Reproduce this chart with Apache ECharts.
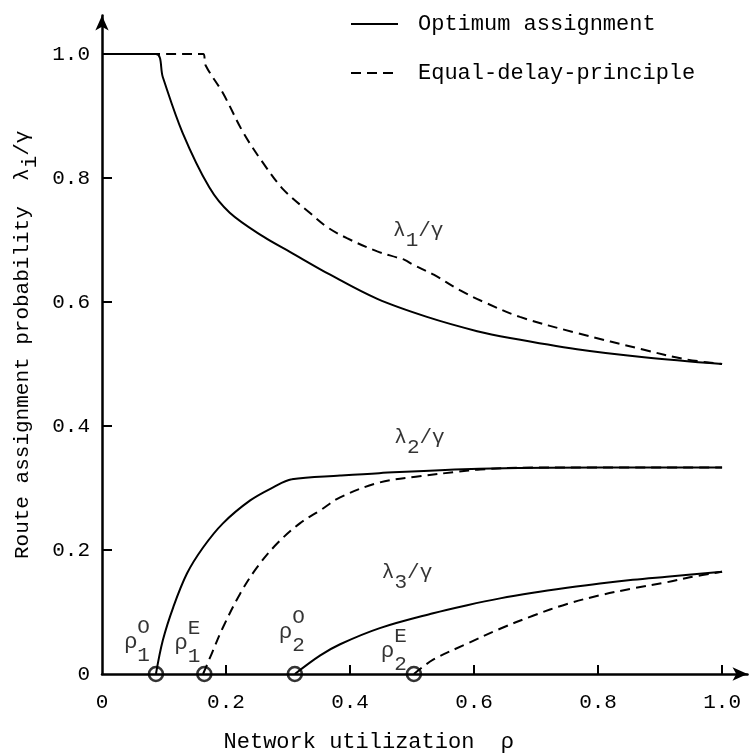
<!DOCTYPE html>
<html><head><meta charset="utf-8">
<script src="https://cdn.jsdelivr.net/npm/echarts@6/dist/echarts.min.js"></script>
<style>html,body{margin:0;padding:0;background:#fff}#c{width:756px;height:755px}</style>
</head><body><div id="c"></div>
<script>
// ---- data ----
const xTickLabels = [0, 0.2, 0.4, 0.6, 0.8, 1.0];
const yTickLabels = [0, 0.2, 0.4, 0.6, 0.8, 1.0];

// Optimum assignment (solid)
const optLambda1 = [[0,1.0],[0.087,1.0],[0.098,0.963],[0.130,0.873],[0.173,0.785],[0.206,0.744],[0.261,0.705],[0.303,0.681],[0.368,0.644],[0.444,0.605],[0.524,0.576],[0.605,0.553],[0.658,0.542],[0.766,0.524],[0.874,0.511],[1.0,0.5]];
const optLambda2 = [[0.087,0],[0.098,0.054],[0.115,0.108],[0.137,0.162],[0.163,0.204],[0.195,0.243],[0.239,0.280],[0.276,0.301],[0.306,0.314],[0.384,0.320],[0.447,0.324],[0.608,0.331],[0.8,0.333],[1.0,0.333]];
const optLambda3 = [[0.311,0],[0.352,0.030],[0.384,0.048],[0.448,0.074],[0.534,0.098],[0.589,0.111],[0.642,0.122],[0.695,0.131],[0.750,0.139],[0.803,0.146],[0.856,0.152],[0.911,0.157],[1.0,0.165]];

// Equal-delay-principle (dashed)
const eqLambda1 = [[0,1.0],[0.163,1.0],[0.167,0.982],[0.195,0.937],[0.228,0.873],[0.260,0.824],[0.293,0.781],[0.335,0.744],[0.363,0.721],[0.395,0.703],[0.443,0.682],[0.475,0.672],[0.488,0.668],[0.502,0.660],[0.535,0.644],[0.577,0.619],[0.616,0.600],[0.674,0.576],[0.766,0.550],[0.874,0.523],[0.939,0.508],[1.0,0.5]];
const eqLambda2 = [[0.163,0],[0.177,0.033],[0.195,0.075],[0.223,0.130],[0.250,0.172],[0.282,0.210],[0.319,0.243],[0.352,0.264],[0.384,0.285],[0.448,0.309],[0.512,0.319],[0.572,0.326],[0.61,0.330],[0.7,0.333],[1.0,0.333]];
const eqLambda3 = [[0.503,0],[0.534,0.023],[0.589,0.049],[0.642,0.073],[0.695,0.094],[0.750,0.113],[0.803,0.127],[0.856,0.138],[0.911,0.148],[0.948,0.156],[1.0,0.165]];

// threshold utilizations (circles on the x axis)
const thresholdX   = [0.087, 0.165, 0.311, 0.503];
const thresholdSub = ['1', '1', '2', '2'];
const thresholdSup = ['O', 'E', 'O', 'E'];

// curve annotations
const curveLabelIdx = ['1', '2', '3'];
const curveLabelPos = [[0.510, 0.717], [0.512, 0.383], [0.492, 0.165]];

// ---- styling ----
const F = '"Liberation Mono","DejaVu Sans Mono",monospace';
const thresholdOffsets = [[-6,-40],[-4,-39],[10,-50],[-7,-31]];
const fmt = v => v === 0 ? '0' : v.toFixed(1);

const solid = {color:'#000', width:2, type:'solid'};
const dashed = {color:'#000', width:2, type:[10,6]};
function lineSeries(name, data, ls) {
  return {type:'line', name, data, symbol:'none', showSymbol:false, smooth:0.35,
          lineStyle:ls, itemStyle:{color:'#000'}, silent:true, z:3};
}

const option = {
  animation:false,
  backgroundColor:'#fff',
  grid:{left:102, right:8.5, top:15.6, bottom:81, containLabel:false, outerBoundsMode:'none'},
  legend:{
    orient:'vertical', left:350, top:10, padding:0, itemWidth:47, itemHeight:14, itemGap:21,
    selectedMode:false,
    itemStyle:{opacity:0},
    data:['Optimum assignment','Equal-delay-principle'],
    textStyle:{fontFamily:F, fontSize:22, color:'#000', padding:[0,0,6,15], lineHeight:22}
  },
  xAxis:{
    type:'value', min:0, max:1.041,
    axisLine:{show:true, onZero:false, symbol:['none','arrow'], symbolSize:[10,15], lineStyle:{color:'#000', width:2.5}},
    axisTick:{show:true, inside:true, length:9, customValues:[0.2,0.4,0.6,0.8,1.0], lineStyle:{color:'#000', width:2}},
    axisLabel:{customValues:xTickLabels, formatter:fmt, margin:18, fontFamily:F, fontSize:21, color:'#000'},
    splitLine:{show:false},
    name:'Network utilization  ρ', nameLocation:'middle', nameGap:57,
    nameTextStyle:{fontFamily:F, fontSize:22, color:'#000', padding:[0,112,0,0]}
  },
  yAxis:{
    type:'value', min:0, max:1.062,
    axisLine:{show:true, onZero:false, symbol:['none','arrow'], symbolSize:[10,15], lineStyle:{color:'#000', width:2.5}},
    axisTick:{show:true, inside:true, length:10, customValues:[0.2,0.4,0.6,0.8,1.0], lineStyle:{color:'#000', width:2}},
    axisLabel:{customValues:yTickLabels, formatter:fmt, margin:12, fontFamily:F, fontSize:21, color:'#000'},
    splitLine:{show:false},
    name:'{t|Route assignment probability  λ}{s|i}{t|/γ}', nameLocation:'middle', nameGap:68,
    nameTextStyle:{fontFamily:F, fontSize:21, color:'#000',
      rich:{t:{fontFamily:F, fontSize:21, color:'#000', lineHeight:20, verticalAlign:'top'},
            s:{fontFamily:F, fontSize:21, color:'#000', lineHeight:20, verticalAlign:'top', padding:[8,0,0,0]}}}
  },
  series:[
    lineSeries('Optimum assignment', optLambda1, solid),
    lineSeries('Optimum assignment', optLambda2, solid),
    lineSeries('Optimum assignment', optLambda3, solid),
    lineSeries('Equal-delay-principle', eqLambda1, dashed),
    lineSeries('Equal-delay-principle', eqLambda2, dashed),
    lineSeries('Equal-delay-principle', eqLambda3, dashed),
    {
      type:'scatter', name:'thresholds', silent:true, z:6,
      symbol:'circle', symbolSize:14,
      itemStyle:{color:'rgba(255,255,255,0)', borderColor:'#000', borderWidth:2.6},
      data: thresholdX.map((x,i)=>({value:[x,0], label:{offset:thresholdOffsets[i]}})),
      label:{
        show:true, position:'inside', align:'right', verticalAlign:'middle',
        formatter: p => '{sup| ' + thresholdSup[p.dataIndex] + '}\n{r|ρ}{sub|' + thresholdSub[p.dataIndex] + '}',
        rich:{
          sup:{fontFamily:F, fontSize:21, color:'#000', lineHeight:8},
          r:{fontFamily:F, fontSize:22, color:'#000', lineHeight:14, verticalAlign:'top'},
          sub:{fontFamily:F, fontSize:21, color:'#000', lineHeight:14, verticalAlign:'top', padding:[14,0,0,0]}
        }
      }
    },
    {
      type:'scatter', name:'curveLabels', silent:true, z:6, symbolSize:0,
      data: curveLabelPos.map((p,i)=>({value:p})),
      label:{
        show:true, position:'inside', align:'center', verticalAlign:'middle',
        formatter: p => '{a|λ}{s|' + curveLabelIdx[p.dataIndex] + '}{a|/γ}',
        rich:{
          a:{fontFamily:F, fontSize:21, color:'#000', lineHeight:20, verticalAlign:'top'},
          s:{fontFamily:F, fontSize:21, color:'#000', lineHeight:20, verticalAlign:'top', padding:[10,0,0,0]}
        }
      }
    }
  ]
};
const chart = echarts.init(document.getElementById('c'), null, {renderer:'canvas'});
chart.setOption(option);
</script></body></html>
